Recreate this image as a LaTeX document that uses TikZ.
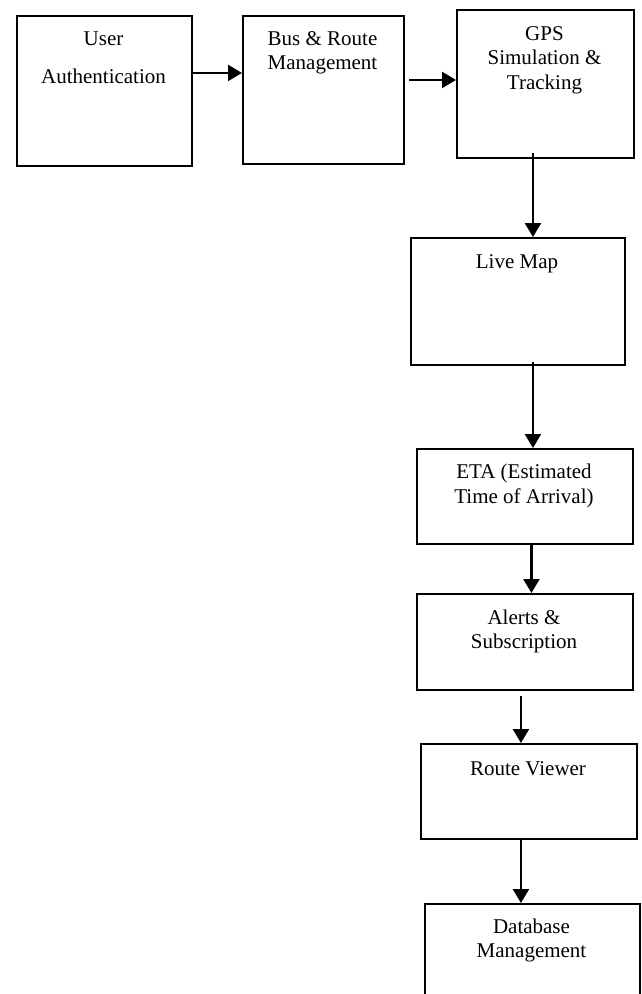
\documentclass[tikz,border=0pt]{standalone}
\usepackage{fontspec}
\setmainfont{Liberation Serif}
\usetikzlibrary{arrows.meta}
\begin{document}
\begin{tikzpicture}[x=1pt,y=-1pt,
  box/.style={draw, line width=1.9pt, inner sep=0pt, anchor=north west},
  lbl/.style={anchor=base, font=\fontsize{21}{24}\selectfont, inner sep=0pt},
  arr/.style={line width=2.4pt, -{Triangle[length=14pt,width=16pt]}}]
\useasboundingbox (0,0) rectangle (641,994);
% boxes
\node[box, minimum width=175pt, minimum height=150pt] (ua)  at (16,15)  {};
\node[box, minimum width=161pt, minimum height=148pt] (brm) at (242,15) {};
\node[box, minimum width=177pt, minimum height=148pt] (gps) at (456,9)  {};
\node[box, minimum width=214pt, minimum height=127pt] (lm)  at (410,237) {};
\node[box, minimum width=216pt, minimum height=95pt]  (eta) at (416,448) {};
\node[box, minimum width=216pt, minimum height=96pt]  (al)  at (416,593) {};
\node[box, minimum width=216pt, minimum height=95pt]  (rv)  at (420,743) {};
\node[box, minimum width=215pt, minimum height=120pt] (db)  at (424,903) {};
% labels
\node[lbl] (t1a) at (103.5,45) {User};
\node[lbl] (t1b) at (103.5,83) {Authentication};
\node[lbl] (t2a) at (322.5,45) {Bus \& Route};
\node[lbl] (t2b) at (322.5,69) {Management};
\node[lbl] (t3a) at (544.5,40) {GPS};
\node[lbl] (t3b) at (544.5,64.5) {Simulation \&};
\node[lbl] (t3c) at (544.5,89) {Tracking};
\node[lbl] (t4a) at (517,268) {Live Map};
\node[lbl] (t5a) at (524,478) {ETA (Estimated};
\node[lbl] (t5b) at (524,503) {Time of Arrival)};
\node[lbl] (t6a) at (524,624) {Alerts \&};
\node[lbl] (t6b) at (524,648) {Subscription};
\node[lbl] (t7a) at (528,775) {Route Viewer};
\node[lbl] (t8a) at (531.5,933) {Database};
\node[lbl] (t8b) at (531.5,957) {Management};
% arrows
\draw[arr] ([yshift=18pt]ua.east) -- ([yshift=17pt]brm.west);
\draw[arr] ([xshift=4pt,yshift=10pt]brm.east) -- ([yshift=4pt]gps.west);
\draw[arr] ([xshift=-12.5pt,yshift=6pt]gps.south) -- ([xshift=15pt]lm.north);
\draw[arr] ([xshift=15pt,yshift=4pt]lm.south) -- ([xshift=8pt]eta.north);
\draw[arr] ([xshift=6.5pt,yshift=2pt]eta.south) -- ([xshift=6.5pt]al.north);
\draw[arr] ([xshift=-4pt,yshift=-5pt]al.south) -- ([xshift=-8pt]rv.north);
\draw[arr] ([xshift=-8pt]rv.south) -- ([xshift=-11.5pt]db.north);
\end{tikzpicture}
\end{document}
